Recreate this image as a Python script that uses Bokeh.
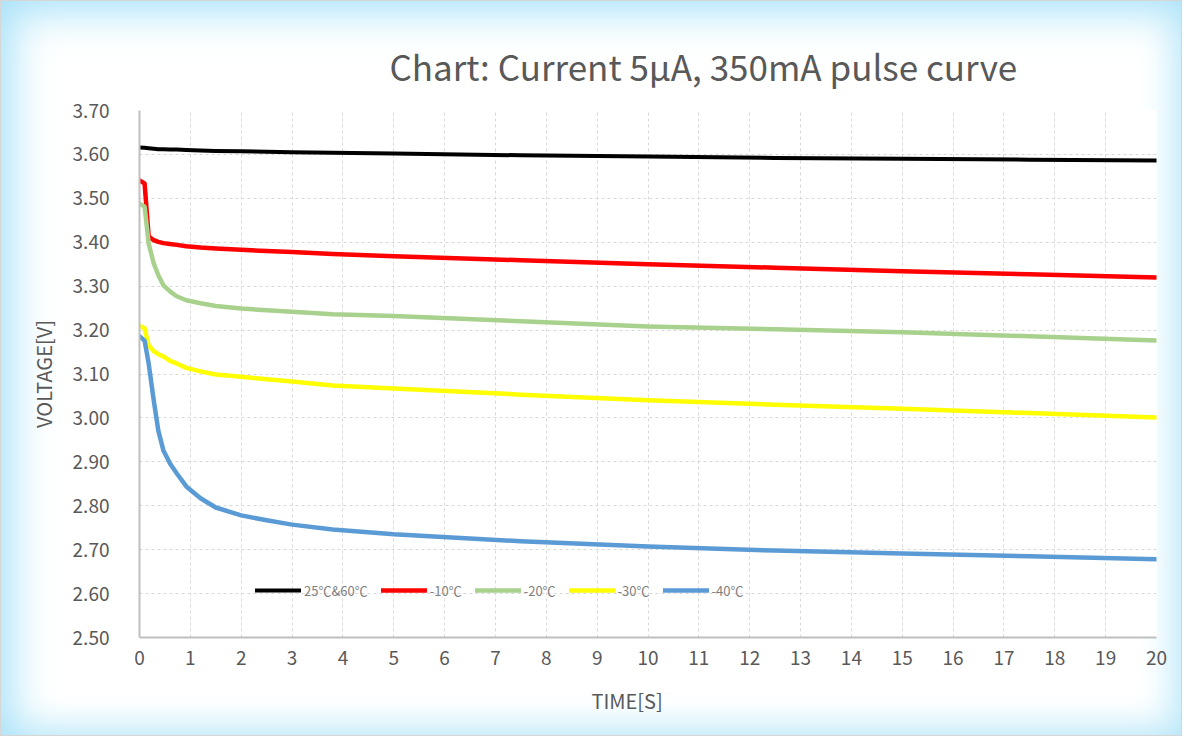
from bokeh.plotting import figure
from bokeh.models import Range1d, FixedTicker, NumeralTickFormatter, Legend, LegendItem, Title
from bokeh.embed import file_html
from bokeh.resources import INLINE

time_s = [0, 0.1, 0.18, 0.28, 0.37, 0.47, 0.6, 0.73, 0.92, 1.2, 1.5, 2, 2.5, 3, 3.8,
          5, 7.5, 10, 12.5, 15, 17.5, 20]
v_25_60 = [3.616, 3.615, 3.614, 3.613, 3.612, 3.612, 3.611, 3.611, 3.610, 3.609, 3.608,
           3.607, 3.606, 3.605, 3.604, 3.602, 3.598, 3.595, 3.592, 3.590, 3.588, 3.586]
v_m10 = [3.541, 3.534, 3.413, 3.405, 3.401, 3.398, 3.396, 3.394, 3.391, 3.388, 3.386,
         3.383, 3.380, 3.378, 3.373, 3.368, 3.359, 3.350, 3.342, 3.334, 3.327, 3.320]
v_m20 = [3.488, 3.481, 3.397, 3.352, 3.325, 3.302, 3.288, 3.277, 3.268, 3.261, 3.255,
         3.249, 3.245, 3.242, 3.236, 3.232, 3.220, 3.208, 3.202, 3.195, 3.186, 3.176]
v_m30 = [3.210, 3.204, 3.165, 3.152, 3.145, 3.140, 3.130, 3.124, 3.114, 3.106, 3.099,
         3.094, 3.088, 3.083, 3.074, 3.067, 3.053, 3.040, 3.030, 3.021, 3.011, 3.001]
v_m40 = [3.186, 3.176, 3.124, 3.040, 2.971, 2.926, 2.896, 2.874, 2.844, 2.817, 2.796,
         2.778, 2.767, 2.757, 2.746, 2.735, 2.719, 2.707, 2.698, 2.691, 2.685, 2.678]

series_names = ["25℃&60℃", "-10℃", "-20℃", "-30℃", "-40℃"]
series_vals = [v_25_60, v_m10, v_m20, v_m30, v_m40]
series_colors = ["#000000", "#ff0000", "#a9d18e", "#ffff00", "#5b9bd5"]

x_ticks = list(range(0, 21))
y_ticks = [2.5, 2.6, 2.7, 2.8, 2.9, 3.0, 3.1, 3.2, 3.3, 3.4, 3.5, 3.6, 3.7]

FONT = "Noto Sans CJK SC"
GRAY = "#595959"

p = figure(width=1182, height=736, output_backend="svg", toolbar_location=None,
           x_range=Range1d(0, 20), y_range=Range1d(2.5, 3.7),
           min_border_left=138, min_border_right=27, min_border_top=109, min_border_bottom=100,
           title="Chart: Current 5μA, 350mA pulse curve")

p.border_fill_alpha = 0
p.background_fill_color = "white"
p.outline_line_color = None
p.styles = {"background-color": "white",
            "box-shadow": "inset 10px 10px 45px #a9e2f8, inset -8px -8px 35px #d3f0fb",
            "border": "1px solid #d6d6d6", "box-sizing": "border-box"}

p.title.align = "left"
p.title.offset = 250
p.title.text_font = FONT
p.title.text_font_size = "35px"
p.title.text_font_style = "normal"
p.title.text_color = GRAY
p.title.standoff = 40

for ax in (p.xaxis[0], p.yaxis[0]):
    ax.major_tick_line_color = None
    ax.minor_tick_line_color = None
    ax.axis_line_color = "#bfbfbf"
    ax.axis_line_width = 2
    ax.major_label_text_font = FONT
    ax.major_label_text_font_size = "19px"
    ax.major_label_text_color = GRAY
    ax.axis_label_text_font = FONT
    ax.axis_label_text_font_size = "20px"
    ax.axis_label_text_font_style = "normal"
    ax.axis_label_text_color = GRAY

p.xaxis.ticker = FixedTicker(ticks=x_ticks)
p.yaxis.ticker = FixedTicker(ticks=y_ticks)
p.yaxis.formatter = NumeralTickFormatter(format="0.00")
p.yaxis.axis_label = "VOLTAGE[V]"
p.xaxis.major_label_standoff = 7
p.yaxis.major_label_standoff = 24
p.yaxis.axis_label_standoff = 12

p.grid.grid_line_color = "#d9d9d9"
p.grid.grid_line_dash = "3 3"
p.grid.grid_line_width = 1

x_title = Title(text="TIME[S]", align="left", offset=452, text_font=FONT,
                text_font_size="20px", text_font_style="normal", text_color=GRAY, standoff=33)
p.add_layout(x_title, "below")

items = []
for name, vals, col in zip(series_names, series_vals, series_colors):
    r = p.line(time_s, vals, line_color=col, line_width=4.5 if col != "#000000" else 4,
               line_join="round", line_cap="round")
    items.append(LegendItem(label=name, renderers=[r]))

legend = Legend(items=items, orientation="horizontal", location=(116, 37),
                background_fill_alpha=0, border_line_color=None, padding=0, margin=0,
                glyph_width=46, glyph_height=20, label_height=20, label_standoff=3,
                spacing=13, label_text_font=FONT, label_text_font_size="13px",
                label_text_color="#7f7f7f")
p.add_layout(legend, "center")

open("out.html", "w").write(file_html(p, INLINE))
